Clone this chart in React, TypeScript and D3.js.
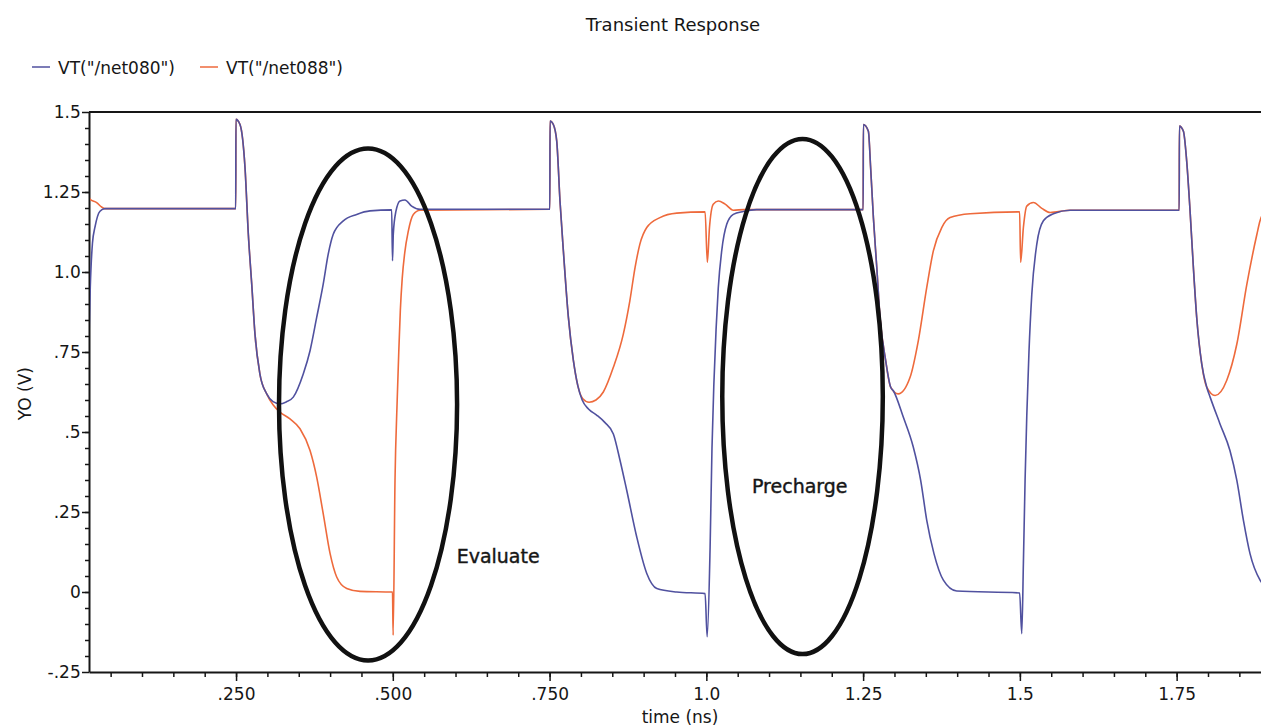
import React, { useEffect, useRef } from 'react';
import * as d3 from 'd3';

const chartTitle = 'Transient Response';
const seriesNames = ['VT("/net080")', 'VT("/net088")'];
const seriesColors = ['#50519f', '#ee6a3c'];

const xMajorTicks = [0.25, 0.5, 0.75, 1.0, 1.25, 1.5, 1.75];
const xMajorLabels = ['.250', '.500', '.750', '1.0', '1.25', '1.5', '1.75'];
const yMajorTicks = [-0.25, 0, 0.25, 0.5, 0.75, 1.0, 1.25, 1.5];
const yMajorLabels = ['-.25', '0', '.25', '.5', '.75', '1.0', '1.25', '1.5'];

// [time ns, volts]
const net080: [number, number][] = [
  [0.0155, 0.8], [0.0175, 0.95], [0.021, 1.09], [0.025, 1.14], [0.033, 1.19], [0.041, 1.198],
  [0.2495, 1.198], [0.2498, 1.477], [0.2563, 1.461], [0.2643, 1.326], [0.2696, 1.118], [0.275, 0.962],
  [0.2802, 0.806], [0.288, 0.682], [0.2989, 0.619], [0.309, 0.595], [0.32, 0.588], [0.33, 0.594],
  [0.3413, 0.609], [0.3573, 0.682], [0.368, 0.754], [0.3786, 0.858], [0.389, 0.962], [0.397, 1.056],
  [0.405, 1.118], [0.421, 1.16], [0.4424, 1.18], [0.4636, 1.191], [0.4982, 1.194],
  [0.4995, 1.035], [0.5008, 1.12], [0.505, 1.19], [0.5115, 1.222], [0.5194, 1.225], [0.53, 1.206], [0.5434, 1.196],
  [0.7504, 1.196], [0.7507, 1.472], [0.756, 1.461], [0.7614, 1.409], [0.7666, 1.222], [0.772, 1.066],
  [0.78, 0.858], [0.788, 0.723], [0.795, 0.645], [0.802, 0.6], [0.812, 0.572], [0.825, 0.553], [0.838, 0.53],
  [0.8517, 0.494], [0.8624, 0.411], [0.873, 0.318], [0.889, 0.172], [0.905, 0.058], [0.921, 0.011],
  [0.9528, 0.0], [0.998, -0.005],
  [1.0013, -0.14], [1.006, 0.14], [1.009, 0.45], [1.012, 0.65], [1.0155, 0.82], [1.019, 0.95],
  [1.0245, 1.066], [1.0325, 1.149], [1.043, 1.18], [1.059, 1.189], [1.08, 1.195],
  [1.2501, 1.195], [1.2504, 1.461], [1.2584, 1.44], [1.262, 1.326], [1.2664, 1.17], [1.2718, 1.014],
  [1.277, 0.858], [1.286, 0.723], [1.294, 0.64], [1.2982, 0.629], [1.3142, 0.546], [1.33, 0.453],
  [1.3418, 0.349], [1.3515, 0.224], [1.363, 0.12], [1.378, 0.037], [1.3993, 0.003], [1.4996, -0.003],
  [1.503, -0.13], [1.5056, 0.089], [1.5083, 0.349], [1.511, 0.55], [1.5145, 0.75], [1.519, 0.93],
  [1.527, 1.087], [1.5375, 1.16], [1.5534, 1.182], [1.58, 1.193],
  [1.7541, 1.193], [1.7544, 1.456], [1.7608, 1.44], [1.766, 1.347], [1.7714, 1.191], [1.7767, 1.014],
  [1.782, 0.858], [1.79, 0.713], [1.798, 0.64], [1.8034, 0.609], [1.819, 0.526], [1.835, 0.442],
  [1.846, 0.349], [1.8565, 0.224], [1.867, 0.12], [1.883, 0.037], [1.895, 0.01],
];

const net088: [number, number][] = [
  [0.0155, 1.235], [0.0172, 1.227], [0.0277, 1.217], [0.0357, 1.203], [0.041, 1.198],
  [0.2495, 1.198], [0.2498, 1.477], [0.2563, 1.461], [0.2643, 1.326], [0.2696, 1.118], [0.275, 0.962],
  [0.2802, 0.806], [0.288, 0.682], [0.2989, 0.619], [0.309, 0.585], [0.32, 0.562], [0.336, 0.541],
  [0.352, 0.51], [0.368, 0.442], [0.3786, 0.359], [0.389, 0.245], [0.4, 0.12], [0.4105, 0.047],
  [0.4265, 0.011], [0.4477, 0.002], [0.4995, 0.0],
  [0.5005, -0.135], [0.5035, 0.349], [0.507, 0.6], [0.5095, 0.75], [0.512, 0.88], [0.515, 0.98],
  [0.519, 1.06], [0.5247, 1.128], [0.5327, 1.18], [0.5434, 1.193],
  [0.7504, 1.196], [0.7507, 1.472], [0.756, 1.461], [0.7614, 1.409], [0.7666, 1.222], [0.772, 1.066],
  [0.78, 0.858], [0.788, 0.723], [0.795, 0.645], [0.803, 0.604], [0.813, 0.593], [0.824, 0.6], [0.8357, 0.625],
  [0.8517, 0.702], [0.8676, 0.806], [0.878, 0.91], [0.8863, 1.014], [0.894, 1.087], [0.905, 1.139],
  [0.926, 1.17], [0.9528, 1.184], [0.998, 1.188],
  [1.0016, 1.03], [1.005, 1.139], [1.011, 1.212], [1.019, 1.222], [1.03, 1.212], [1.043, 1.193], [1.06, 1.195],
  [1.2501, 1.195], [1.2504, 1.461], [1.2584, 1.44], [1.262, 1.326], [1.2664, 1.17], [1.2718, 1.014],
  [1.277, 0.858], [1.286, 0.723], [1.294, 0.64], [1.306, 0.619], [1.3249, 0.671], [1.338, 0.785],
  [1.3515, 0.952], [1.362, 1.066], [1.3754, 1.139], [1.3887, 1.17], [1.4206, 1.182], [1.4996, 1.188],
  [1.5012, 1.03], [1.5056, 1.139], [1.511, 1.206], [1.5216, 1.217], [1.535, 1.199], [1.5482, 1.186], [1.58, 1.193],
  [1.7541, 1.193], [1.7544, 1.456], [1.7608, 1.44], [1.766, 1.347], [1.7714, 1.191], [1.7767, 1.014],
  [1.782, 0.858], [1.79, 0.713], [1.798, 0.64], [1.8113, 0.614], [1.8298, 0.661], [1.846, 0.775],
  [1.862, 0.962], [1.878, 1.118], [1.883, 1.16], [1.895, 1.2],
];

// hand-drawn ellipses + labels (centre time, centre volts, half width ns, half height V)
const markNames = ['Evaluate', 'Precharge'];
const markCenters: [number, number][] = [[0.4605, 0.586], [1.1534, 0.611]];
const markRadii: [number, number][] = [[0.142, 0.8], [0.128, 0.805]];
const markLabelPos: [number, number][] = [[0.668, 0.112], [1.149, 0.33]];

const W = 1261;
const H = 727;
const FONT = '"DejaVu Sans", sans-serif';
const INK = '#161616';

const App = () => {
  const ref = useRef<SVGSVGElement>(null);

  useEffect(() => {
    const svg = d3.select(ref.current);
    svg.selectAll('*').remove();

    const left = 89, right = 1261, top = 112, bottom = 672;

    const x = d3.scaleLinear().domain([0.0155, 1.8925]).range([left, 1266]);
    const y = d3.scaleLinear().domain([-0.25, 1.5]).range([bottom, top]);

    svg.append('rect').attr('width', W).attr('height', H).attr('fill', '#fff');

    // title
    svg.append('text')
      .attr('x', 673).attr('y', 31)
      .attr('text-anchor', 'middle')
      .attr('font-family', FONT).attr('font-size', 18)
      .attr('fill', INK)
      .text(chartTitle);

    // legend
    const legendX = [32, 200];
    seriesNames.forEach((name, i) => {
      svg.append('line')
        .attr('x1', legendX[i]).attr('x2', legendX[i] + 18)
        .attr('y1', 67).attr('y2', 67)
        .attr('stroke', seriesColors[i]).attr('stroke-width', 1.5);
      svg.append('text')
        .attr('x', legendX[i] + 26).attr('y', 74)
        .attr('font-family', FONT).attr('font-size', 17)
        .attr('fill', INK)
        .text(name);
    });

    // axes
    const minor = d3.range(1, 38).map(k => k * 0.05);
    const yMinor = d3.range(-4, 30).map(k => k * 0.05);

    const gx = svg.append('g').attr('transform', `translate(0,${bottom})`);
    gx.call(d3.axisBottom(x).tickValues(minor).tickSize(5).tickFormat(() => '').tickSizeOuter(0));
    gx.call(g => g.select('.domain').remove());
    const gxMaj = svg.append('g').attr('transform', `translate(0,${bottom})`);
    gxMaj.call(d3.axisBottom(x).tickValues(xMajorTicks).tickSize(9).tickSizeOuter(0)
      .tickFormat((d, i) => xMajorLabels[i]));
    gxMaj.select('.domain').attr('stroke', INK).attr('stroke-width', 2);
    gxMaj.selectAll('text').attr('font-family', FONT).attr('font-size', 17).attr('fill', INK).attr('dy', '0.95em');

    const gy = svg.append('g').attr('transform', `translate(${left},0)`);
    gy.call(d3.axisLeft(y).tickValues(yMinor).tickSize(4).tickFormat(() => '').tickSizeOuter(0));
    gy.call(g => g.select('.domain').remove());
    const gyMaj = svg.append('g').attr('transform', `translate(${left},0)`);
    gyMaj.call(d3.axisLeft(y).tickValues(yMajorTicks).tickSize(7).tickSizeOuter(0)
      .tickFormat((d, i) => yMajorLabels[i]));
    gyMaj.select('.domain').attr('stroke', INK).attr('stroke-width', 2);
    gyMaj.selectAll('text').attr('font-family', FONT).attr('font-size', 17).attr('fill', INK).attr('dx', '0.1em');
    svg.selectAll('.tick line').attr('stroke', INK).attr('stroke-width', 1.5);

    // top frame line
    svg.append('line')
      .attr('x1', left).attr('x2', right).attr('y1', top).attr('y2', top)
      .attr('stroke', INK).attr('stroke-width', 2);

    // axis titles
    svg.append('text')
      .attr('transform', `translate(31,${y(0.62)}) rotate(-90)`)
      .attr('text-anchor', 'middle')
      .attr('font-family', FONT).attr('font-size', 17).attr('fill', INK)
      .text('YO (V)');
    svg.append('text')
      .attr('x', 680).attr('y', 723)
      .attr('text-anchor', 'middle')
      .attr('font-family', FONT).attr('font-size', 17).attr('fill', INK)
      .text('time (ns)');

    // traces
    svg.append('clipPath').attr('id', 'plotclip')
      .append('rect').attr('x', left + 1).attr('y', top - 2).attr('width', right - left).attr('height', bottom - top + 4);

    const line = d3.line<[number, number]>()
      .x(d => x(d[0]))
      .y(d => y(d[1]))
      .curve(d3.curveMonotoneX);

    const plot = svg.append('g').attr('clip-path', 'url(#plotclip)');
    [net088, net080].forEach((data, k) => {
      plot.append('path')
        .datum(data)
        .attr('fill', 'none')
        .attr('stroke', seriesColors[1 - k])
        .attr('stroke-width', 1.6)
        .attr('stroke-linejoin', 'round')
        .attr('d', line);
    });

    // annotations
    markNames.forEach((name, i) => {
      const [cx, cy] = markCenters[i];
      const [rx, ry] = markRadii[i];
      svg.append('ellipse')
        .attr('cx', x(cx)).attr('cy', y(cy))
        .attr('rx', x(cx + rx) - x(cx)).attr('ry', y(cy) - y(cy + ry))
        .attr('fill', 'none').attr('stroke', '#111').attr('stroke-width', 4.5);
      svg.append('text')
        .attr('x', x(markLabelPos[i][0])).attr('y', y(markLabelPos[i][1]))
        .attr('dy', '0.35em')
        .attr('text-anchor', 'middle')
        .attr('font-family', FONT).attr('font-size', 19).attr('fill', INK)
        .attr('stroke', INK).attr('stroke-width', 0.4)
        .text(name);
    });
  }, []);

  return (
    <div style={{ position: 'absolute', left: 0, top: 0 }}>
      <svg ref={ref} width={W} height={H} style={{ display: 'block' }} />
    </div>
  );
};

export default App;
